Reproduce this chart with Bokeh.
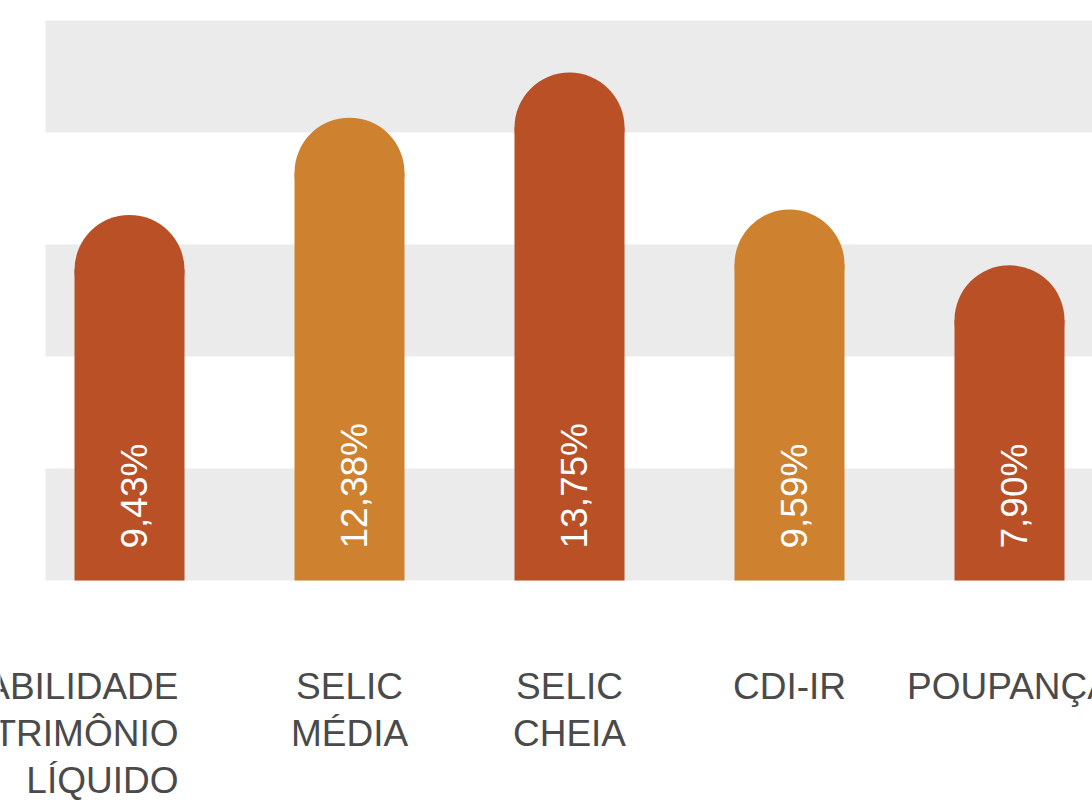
from math import pi
from bokeh.plotting import figure
from bokeh.models import ColumnDataSource, Range1d, FixedTicker, Grid
from bokeh.core.properties import value
from bokeh.embed import file_html
from bokeh.resources import INLINE

# ---- data ----
categories = ["RENTABILIDADE\nPATRIMÔNIO\nLÍQUIDO", "SELIC\nMÉDIA", "SELIC\nCHEIA", "CDI-IR", "POUPANÇA"]
values = [9.43, 12.38, 13.75, 9.59, 7.90]
value_labels = ["9,43%", "12,38%", "13,75%", "9,59%", "7,90%"]

# ---- style / layout ----
bar_colors = ["#ba5026", "#ce8230", "#ba5026", "#ce8230", "#ba5026"]
FONT = value("Liberation Sans")
X_START, X_END = -0.5864, 4.3773
Y_START, Y_END = -6.679, 17.607
band_ticks = [Y_START, 0, 3.4, 6.8, 10.2, 13.6, 17, Y_END]

xs = list(range(len(categories)))
src = ColumnDataSource(dict(x=xs, value=values, vlabel=value_labels, color=bar_colors,
                            zero=[0] * len(xs)))
src_first = ColumnDataSource(dict(x=xs[:1], label=categories[:1], zero=[0]))
src_rest = ColumnDataSource(dict(x=xs[1:], label=categories[1:], zero=[0] * (len(xs) - 1)))

p = figure(width=1092, height=800, output_backend="svg", toolbar_location=None,
           x_range=Range1d(X_START, X_END), y_range=Range1d(Y_START, Y_END),
           x_axis_location=None, y_axis_location=None,
           min_border_left=0, min_border_right=0, min_border_top=0, min_border_bottom=0)
p.outline_line_color = None
p.background_fill_color = "white"
p.border_fill_color = "white"
for g in p.grid:
    g.visible = False

band_grid = Grid(dimension=1, ticker=FixedTicker(ticks=band_ticks),
                 grid_line_color=None, band_fill_color="#ebebeb", band_fill_alpha=1.0,
                 cross_bounds=(-0.3818, X_END))
p.add_layout(band_grid)

p.vbar(x="x", top="value", bottom=0, width=0.5, fill_color="color", line_color=None, source=src)
p.scatter(x="x", y="value", size=110, marker="circle", fill_color="color", line_color=None, source=src)

p.text(x="x", y="zero", text="vlabel", angle=pi / 2, text_align="left", text_baseline="alphabetic",
       x_offset=5, y_offset=-32, text_color="white", text_font=FONT, text_font_size="37px",
       source=src)

p.text(x="x", y="zero", text="label", source=src_first, text_align="right",
       text_baseline="top", x_offset=49, y_offset=86, text_color="#4a4a4a",
       text_font=FONT, text_font_size="37px", text_line_height=1.14)
p.text(x="x", y="zero", text="label", source=src_rest, text_align="center",
       text_baseline="top", x_offset=0, y_offset=86, text_color="#4a4a4a",
       text_font=FONT, text_font_size="37px", text_line_height=1.14)

open("out.html", "w").write(file_html(p, INLINE))
